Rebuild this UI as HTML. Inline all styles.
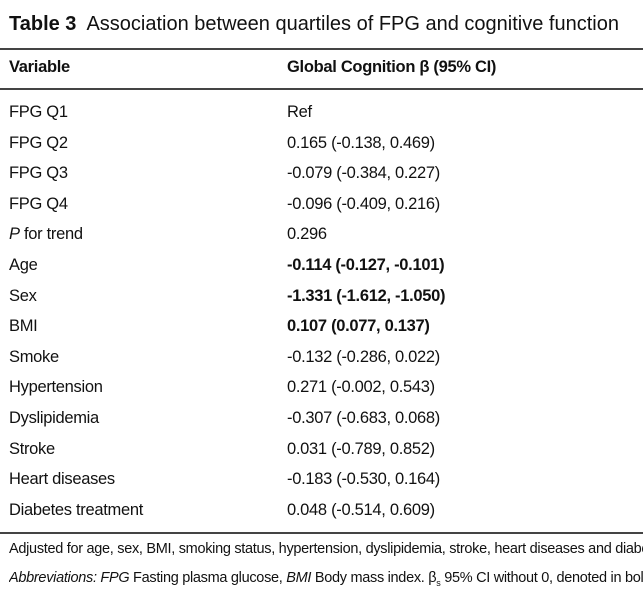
<!DOCTYPE html>
<html><head><meta charset="utf-8"><style>
html,body{margin:0;width:643px;height:589px;overflow:hidden}
body{background:#fff;font-family:"Liberation Sans",sans-serif;color:#111;position:relative}
.a{position:absolute;white-space:nowrap;line-height:1}
.clip{overflow:hidden;width:634px}
.rule{position:absolute;left:0;width:643px;height:1.5px;background:#444}
.r{font-size:16.5px;letter-spacing:-0.3px}
b{font-weight:bold}
</style></head><body>
<div class="a clip" style="left:9px;top:14px;font-size:20px;letter-spacing:0px;height:24px"><b>Table 3</b>&nbsp; Association between quartiles of FPG and cognitive function</div>
<div class="rule" style="top:48px"></div>
<div class="a" style="left:9px;top:59px;font-size:16.5px;font-weight:bold;letter-spacing:-0.3px">Variable</div>
<div class="a" style="left:287px;top:59px;font-size:16.5px;font-weight:bold;letter-spacing:-0.3px">Global Cognition β (95% CI)</div>
<div class="rule" style="top:88px"></div>
<div id="rows"></div>
<div class="rule" style="top:532px"></div>
<div class="a clip" style="left:9px;top:542px;font-size:14.5px;letter-spacing:-0.3px;height:18px">Adjusted for age, sex, BMI, smoking status, hypertension, dyslipidemia, stroke, heart diseases and diabetes treatment</div>
<div class="a clip" style="left:9px;top:571px;font-size:14.5px;letter-spacing:-0.3px;height:18px"><i>Abbreviations: FPG</i> Fasting plasma glucose, <i>BMI</i> Body mass index. β<sub style="font-size:9px">s</sub> 95% CI without 0, denoted in bold</div>
<script>
const variables=["FPG Q1","FPG Q2","FPG Q3","FPG Q4","<i>P</i> for trend","Age","Sex","BMI","Smoke","Hypertension","Dyslipidemia","Stroke","Heart diseases","Diabetes treatment"];
const values=["Ref","0.165 (-0.138, 0.469)","-0.079 (-0.384, 0.227)","-0.096 (-0.409, 0.216)","0.296","-0.114 (-0.127, -0.101)","-1.331 (-1.612, -1.050)","0.107 (0.077, 0.137)","-0.132 (-0.286, 0.022)","0.271 (-0.002, 0.543)","-0.307 (-0.683, 0.068)","0.031 (-0.789, 0.852)","-0.183 (-0.530, 0.164)","0.048 (-0.514, 0.609)"];
const bold=[0,0,0,0,0,1,1,1,0,0,0,0,0,0];
const rows=document.getElementById('rows');
variables.forEach((v,i)=>{
  const y=104+i*30.6;
  const a=document.createElement('div');
  a.className='a r';a.style.left='9px';a.style.top=y+'px';a.innerHTML=v;
  
  
  const b=document.createElement('div');
  b.className='a r';b.style.left='287px';b.style.top=y+'px';b.textContent=values[i];
  if(bold[i])b.style.fontWeight='bold';
  
  
  rows.appendChild(a);rows.appendChild(b);
});
</script>
</body></html>
